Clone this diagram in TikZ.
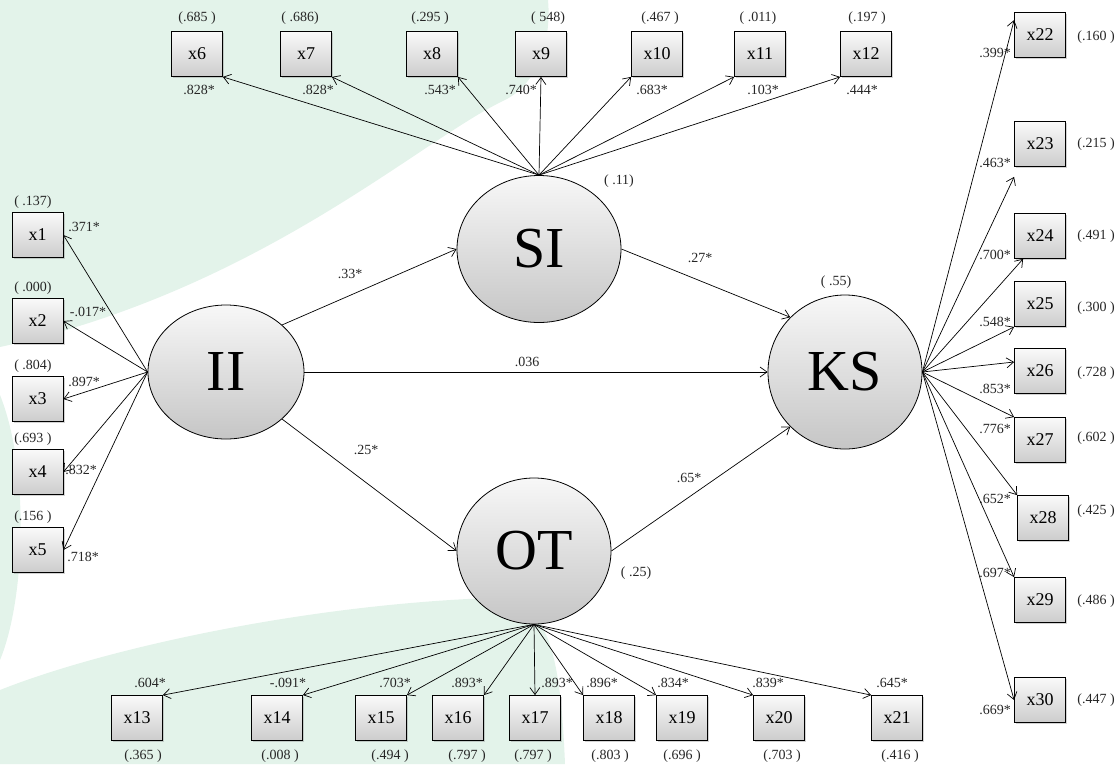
\documentclass[tikz,border=0pt]{standalone}
\usepackage{fontspec}
\setmainfont{Liberation Serif}
\usetikzlibrary{shapes.geometric,arrows.meta,shadows,calc}
\definecolor{fundo}{RGB}{227,243,234}
\tikzset{seta/.style={color=#1,line width=0.7pt,-{Straight Barb[length=7pt,width=10pt]}},seta/.default=black}

\begin{document}
\begin{tikzpicture}[x=1pt,y=-1pt,
                    latente/.style={ellipse,draw,line width=0.8pt,top color=gray!6,
                                    bottom color=gray!45,inner sep=0pt,
                                    font=\fontsize{58}{62}\selectfont},
                    indicador/.style={draw,line width=0.8pt,top color=gray!4,bottom color=gray!40,
                                      minimum width=51pt,minimum height=45pt,inner sep=0pt,
                                      font=\fontsize{18}{20}\selectfont,
                                      drop shadow={shadow xshift=1.5pt,shadow yshift=-1.5pt,opacity=0.35}},
                    rotulo/.style={font=\fontsize{14}{16}\selectfont,text=black!85,inner sep=0pt}]

    \useasboundingbox (0,0) rectangle (1120,764);

    % Manchas verdes do fundo
    \fill [fundo] (0,0) -- (548,0) .. controls (552,45) and (535,85) .. (505,100)
                  .. controls (420,140) and (260,290) .. (0,347) -- cycle;
    \fill [fundo] (0,395) .. controls (30,470) and (25,600) .. (0,660) -- cycle;
    \fill [fundo] (0,764) -- (0,690) .. controls (100,650) and (300,605) .. (490,598)
                  .. controls (545,600) and (560,640) .. (565,764) -- cycle;

    % Variáveis latentes
    \node [latente,minimum width=156pt,minimum height=134pt] (II) at (226,372) {II};
    \node [latente,minimum width=164pt,minimum height=147pt] (SI) at (539,249) {SI};
    \node [latente,minimum width=154pt,minimum height=154pt] (KS) at (845,372) {KS};
    \node [latente,minimum width=154pt,minimum height=146pt] (OT) at (534,551) {OT};

    % Caminhos estruturais
    \draw [seta] (II.40) -- (SI.west);
    \draw [seta] (SI.east) -- (KS.135);
    \draw [seta] (II.east) -- (KS.west);
    \draw [seta] (II.-40) -- (OT.west);
    \draw [seta] (OT.east) -- (KS.-135);

    % Coeficientes e R2
    \node [rotulo] at (350,274) {.33*};
    \node [rotulo] at (700,258) {.27*};
    \node [rotulo] at (527,362) {.036};
    \node [rotulo] at (366,450) {.25*};
    \node [rotulo] at (689,478) {.65*};
    \node [rotulo] at (619,181) {( .11)};
    \node [rotulo] at (836,282) {( .55)};
    \node [rotulo] at (636,573) {( .25)};

    % Indicadores de II
    \foreach \n/\py/\erro/\carga/\cx/\cy in {x1/235/( .137)/.371*/84/227,
        x2/321/( .000)/-.017*/88/312, x3/399/( .804)/.897*/84/382,
        x4/472/(.693 )/.832*/81/470, x5/550/(.156 )/.718*/83/557}
    {
        \node [indicador] (\n) at (37.5,\py) {\n};
        \node [rotulo] at (33,\py-33) {\erro};
        \node [rotulo] at (\cx,\cy) {\carga};
        \draw [seta] (II.west) -- (\n.east);
    }

    % Indicadores de SI
    \foreach \n/\px/\a/\erro/\ex/\carga/\cx in {x6/197/south east/(.685 )/197/.828*/199,
        x7/306/south east/( .686)/300/.828*/318, x8/432/south east/(.295 )/430/.543*/440,
        x9/541/south/( 548)/548/.740*/521, x10/657/south west/(.467 )/660/.683*/652,
        x11/760/south west/( .011)/758/.103*/763, x12/866/south west/(.197 )/867/.444*/862}
    {
        \node [indicador] (\n) at (\px,54) {\n};
        \node [rotulo] at (\ex,18) {\erro};
        \node [rotulo] at (\cx,90) {\carga};
        \draw [seta] (SI.north) -- (\n.\a);
    }

    % Indicadores de OT
    \foreach \n/\px/\a/\erro/\ex/\carga/\cx in {x13/137/north east/(.365 )/143/.604*/150,
        x14/277/north east/(.008 )/280/-.091*/288, x15/381/north east/(.494 )/390/.703*/395,
        x16/458/north east/(.797 )/467/.893*/467, x17/535/north/(.797 )/533/.893*/557,
        x18/609/north west/(.803 )/610/.896*/602, x19/682/north west/(.696 )/682/.834*/673,
        x20/779/north west/(.703 )/782/.839*/768, x21/897/north west/(.416 )/900/.645*/892}
    {
        \node [indicador] (\n) at (\px,718) {\n};
        \node [rotulo] at (\ex,756) {\erro};
        \node [rotulo] at (\cx,683) {\carga};
        \draw [seta] (OT.south) -- (\n.\a);
    }

    % Indicadores de KS
    \foreach \n/\px/\py/\erro/\ey/\carga/\cy/\a/\dx/\dy in {x22/1040/35/(.160 )/37/.399*/53/150/0/0,
        x23/1040/144/(.215 )/144/.463*/163/south west/0/10,
        x24/1040/236/(.491 )/236/.700*/255/south west/9/0,
        x25/1040/304/(.300 )/308/.548*/322/south west/0/0,
        x26/1040/371/(.728 )/373/.853*/389/west/0/-9,
        x27/1040/440/(.602 )/438/.776*/429/north west/0/0,
        x28/1043/518/(.425 )/511/.652*/499/north west/0/0,
        x29/1040/600/(.486 )/601/.697*/573/north west/0/0,
        x30/1040/700/(.447 )/700/.669*/710/west/0/0}
    {
        \node [indicador] (\n) at (\px,\py) {\n};
        \node [rotulo] at (1096,\ey) {\erro};
        \node [rotulo] at (995,\cy) {\carga};
        \draw [seta] (KS.east) -- ($(\n.\a)+(\dx,\dy)$);
    }

\end{tikzpicture}
\end{document}
